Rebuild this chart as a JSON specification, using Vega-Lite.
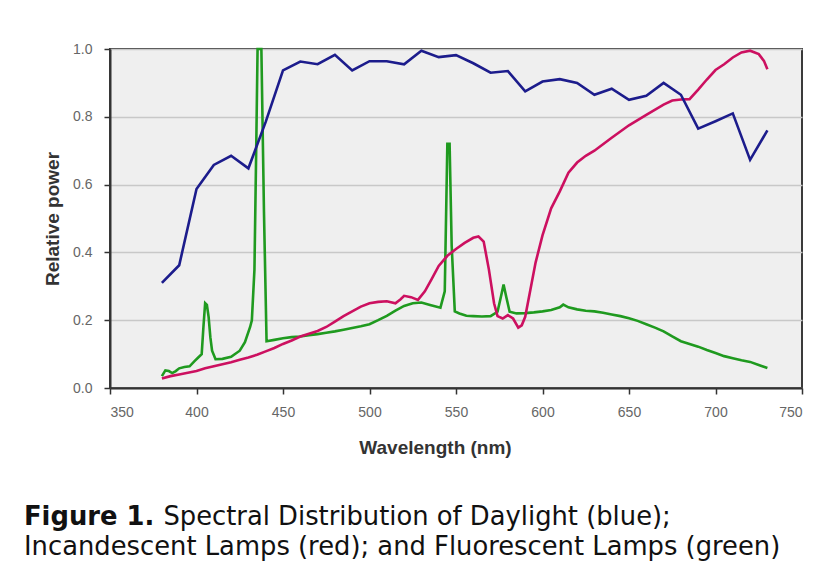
{
  "$schema": "https://vega.github.io/schema/vega-lite/v6.json",
  "autosize": {"type": "none"},
  "padding": {"left": 110, "top": 49, "right": 11, "bottom": 189},
  "width": 692,
  "height": 339,
  "background": "white",
  "title": {
    "text": "Figure 1.",
    "subtitle": ["\u200b\u00a0\u00a0\u00a0\u00a0\u00a0\u00a0\u00a0\u00a0\u00a0\u00a0\u00a0\u00a0\u00a0\u00a0\u00a0\u00a0\u00a0Spectral Distribution of Daylight (blue);", "Incandescent Lamps (red); and Fluorescent Lamps (green)"],
    "orient": "bottom",
    "anchor": "start",
    "frame": "group",
    "dx": -86,
    "offset": 48,
    "font": "DejaVu Sans",
    "fontSize": 25.8,
    "fontWeight": "bold",
    "color": "#111111",
    "subtitleFont": "DejaVu Sans",
    "subtitleFontSize": 25.8,
    "subtitleFontWeight": "normal",
    "subtitleColor": "#111111",
    "subtitlePadding": -25.8,
    "subtitleLineHeight": 30
  },
  "datasets": {
    "daylight": [
      {"wavelength": 380, "power": 0.31}, {"wavelength": 390, "power": 0.362}, {"wavelength": 400, "power": 0.587},
      {"wavelength": 410, "power": 0.658}, {"wavelength": 420, "power": 0.685}, {"wavelength": 430, "power": 0.648},
      {"wavelength": 440, "power": 0.785}, {"wavelength": 450, "power": 0.937}, {"wavelength": 460, "power": 0.963},
      {"wavelength": 470, "power": 0.955}, {"wavelength": 480, "power": 0.983}, {"wavelength": 490, "power": 0.937},
      {"wavelength": 500, "power": 0.964}, {"wavelength": 510, "power": 0.964}, {"wavelength": 520, "power": 0.955},
      {"wavelength": 530, "power": 0.995}, {"wavelength": 540, "power": 0.976}, {"wavelength": 550, "power": 0.982},
      {"wavelength": 560, "power": 0.958}, {"wavelength": 570, "power": 0.93}, {"wavelength": 580, "power": 0.935},
      {"wavelength": 590, "power": 0.875}, {"wavelength": 600, "power": 0.904}, {"wavelength": 610, "power": 0.911},
      {"wavelength": 620, "power": 0.9}, {"wavelength": 630, "power": 0.865}, {"wavelength": 640, "power": 0.883},
      {"wavelength": 650, "power": 0.85}, {"wavelength": 660, "power": 0.862}, {"wavelength": 670, "power": 0.9},
      {"wavelength": 680, "power": 0.865}, {"wavelength": 690, "power": 0.765}, {"wavelength": 700, "power": 0.787},
      {"wavelength": 710, "power": 0.81}, {"wavelength": 720, "power": 0.673}, {"wavelength": 730, "power": 0.76}
    ],
    "incandescent": [
      {"wavelength": 380, "power": 0.028}, {"wavelength": 385, "power": 0.035}, {"wavelength": 390, "power": 0.04},
      {"wavelength": 395, "power": 0.045}, {"wavelength": 400, "power": 0.05}, {"wavelength": 405, "power": 0.058},
      {"wavelength": 410, "power": 0.064}, {"wavelength": 415, "power": 0.07}, {"wavelength": 420, "power": 0.076},
      {"wavelength": 425, "power": 0.083}, {"wavelength": 430, "power": 0.09}, {"wavelength": 435, "power": 0.098},
      {"wavelength": 440, "power": 0.108}, {"wavelength": 445, "power": 0.118}, {"wavelength": 450, "power": 0.13},
      {"wavelength": 455, "power": 0.14}, {"wavelength": 460, "power": 0.152}, {"wavelength": 465, "power": 0.16},
      {"wavelength": 470, "power": 0.168}, {"wavelength": 475, "power": 0.18}, {"wavelength": 480, "power": 0.196},
      {"wavelength": 485, "power": 0.212}, {"wavelength": 490, "power": 0.226}, {"wavelength": 495, "power": 0.24},
      {"wavelength": 500, "power": 0.25}, {"wavelength": 505, "power": 0.254}, {"wavelength": 510, "power": 0.256},
      {"wavelength": 515, "power": 0.25}, {"wavelength": 518, "power": 0.262}, {"wavelength": 520, "power": 0.272},
      {"wavelength": 524, "power": 0.268}, {"wavelength": 528, "power": 0.26}, {"wavelength": 532, "power": 0.285},
      {"wavelength": 536, "power": 0.322}, {"wavelength": 540, "power": 0.36}, {"wavelength": 545, "power": 0.39},
      {"wavelength": 550, "power": 0.41}, {"wavelength": 555, "power": 0.428}, {"wavelength": 560, "power": 0.443},
      {"wavelength": 563, "power": 0.447}, {"wavelength": 566, "power": 0.432}, {"wavelength": 569, "power": 0.35},
      {"wavelength": 572, "power": 0.25}, {"wavelength": 574, "power": 0.212}, {"wavelength": 577, "power": 0.205},
      {"wavelength": 580, "power": 0.215}, {"wavelength": 583, "power": 0.205}, {"wavelength": 586, "power": 0.178},
      {"wavelength": 588, "power": 0.185}, {"wavelength": 590, "power": 0.21}, {"wavelength": 593, "power": 0.29},
      {"wavelength": 596, "power": 0.37}, {"wavelength": 600, "power": 0.45}, {"wavelength": 605, "power": 0.53},
      {"wavelength": 610, "power": 0.58}, {"wavelength": 615, "power": 0.635}, {"wavelength": 620, "power": 0.665},
      {"wavelength": 625, "power": 0.685}, {"wavelength": 630, "power": 0.7}, {"wavelength": 640, "power": 0.738},
      {"wavelength": 650, "power": 0.775}, {"wavelength": 660, "power": 0.806}, {"wavelength": 670, "power": 0.836},
      {"wavelength": 675, "power": 0.848}, {"wavelength": 680, "power": 0.851}, {"wavelength": 685, "power": 0.852},
      {"wavelength": 690, "power": 0.88}, {"wavelength": 695, "power": 0.91}, {"wavelength": 700, "power": 0.938},
      {"wavelength": 705, "power": 0.955}, {"wavelength": 710, "power": 0.975}, {"wavelength": 715, "power": 0.99},
      {"wavelength": 720, "power": 0.995}, {"wavelength": 725, "power": 0.985}, {"wavelength": 728, "power": 0.965},
      {"wavelength": 730, "power": 0.94}
    ],
    "fluorescent": [
      {"wavelength": 380, "power": 0.035}, {"wavelength": 382, "power": 0.052}, {"wavelength": 384, "power": 0.05},
      {"wavelength": 386, "power": 0.044}, {"wavelength": 388, "power": 0.05}, {"wavelength": 390, "power": 0.058},
      {"wavelength": 393, "power": 0.062}, {"wavelength": 396, "power": 0.064}, {"wavelength": 399, "power": 0.08},
      {"wavelength": 401, "power": 0.09}, {"wavelength": 403, "power": 0.1}, {"wavelength": 404, "power": 0.18},
      {"wavelength": 405, "power": 0.25}, {"wavelength": 406, "power": 0.245}, {"wavelength": 407, "power": 0.21},
      {"wavelength": 408, "power": 0.15}, {"wavelength": 409, "power": 0.11}, {"wavelength": 411, "power": 0.085},
      {"wavelength": 415, "power": 0.086}, {"wavelength": 420, "power": 0.092}, {"wavelength": 425, "power": 0.11},
      {"wavelength": 428, "power": 0.135}, {"wavelength": 431, "power": 0.18}, {"wavelength": 432, "power": 0.2},
      {"wavelength": 433.5, "power": 0.35}, {"wavelength": 434.5, "power": 0.7}, {"wavelength": 435.3, "power": 1.0},
      {"wavelength": 437.5, "power": 1.0}, {"wavelength": 439, "power": 0.52}, {"wavelength": 440.5, "power": 0.138},
      {"wavelength": 445, "power": 0.142}, {"wavelength": 450, "power": 0.147}, {"wavelength": 455, "power": 0.15},
      {"wavelength": 460, "power": 0.152}, {"wavelength": 465, "power": 0.156}, {"wavelength": 470, "power": 0.159},
      {"wavelength": 475, "power": 0.163}, {"wavelength": 480, "power": 0.167}, {"wavelength": 485, "power": 0.172},
      {"wavelength": 490, "power": 0.177}, {"wavelength": 495, "power": 0.182}, {"wavelength": 500, "power": 0.188},
      {"wavelength": 505, "power": 0.2}, {"wavelength": 510, "power": 0.213}, {"wavelength": 515, "power": 0.228},
      {"wavelength": 520, "power": 0.242}, {"wavelength": 525, "power": 0.25}, {"wavelength": 530, "power": 0.252},
      {"wavelength": 535, "power": 0.245}, {"wavelength": 541, "power": 0.237}, {"wavelength": 543.5, "power": 0.285},
      {"wavelength": 545, "power": 0.72}, {"wavelength": 546.3, "power": 0.72}, {"wavelength": 547.5, "power": 0.42},
      {"wavelength": 549.3, "power": 0.226}, {"wavelength": 552, "power": 0.22}, {"wavelength": 556, "power": 0.213},
      {"wavelength": 560, "power": 0.212}, {"wavelength": 565, "power": 0.211}, {"wavelength": 570, "power": 0.212},
      {"wavelength": 574, "power": 0.225}, {"wavelength": 576, "power": 0.27}, {"wavelength": 577.5, "power": 0.305},
      {"wavelength": 579, "power": 0.27}, {"wavelength": 581, "power": 0.225}, {"wavelength": 585, "power": 0.22},
      {"wavelength": 590, "power": 0.221}, {"wavelength": 595, "power": 0.223}, {"wavelength": 600, "power": 0.226},
      {"wavelength": 605, "power": 0.23}, {"wavelength": 610, "power": 0.238}, {"wavelength": 612, "power": 0.246},
      {"wavelength": 615, "power": 0.238}, {"wavelength": 620, "power": 0.232}, {"wavelength": 625, "power": 0.228},
      {"wavelength": 630, "power": 0.226}, {"wavelength": 635, "power": 0.222}, {"wavelength": 640, "power": 0.217},
      {"wavelength": 645, "power": 0.212}, {"wavelength": 650, "power": 0.206}, {"wavelength": 655, "power": 0.198},
      {"wavelength": 660, "power": 0.188}, {"wavelength": 665, "power": 0.178}, {"wavelength": 670, "power": 0.167},
      {"wavelength": 675, "power": 0.152}, {"wavelength": 680, "power": 0.138}, {"wavelength": 685, "power": 0.13},
      {"wavelength": 690, "power": 0.122}, {"wavelength": 695, "power": 0.112}, {"wavelength": 700, "power": 0.103},
      {"wavelength": 705, "power": 0.094}, {"wavelength": 710, "power": 0.088}, {"wavelength": 715, "power": 0.082},
      {"wavelength": 720, "power": 0.077}, {"wavelength": 725, "power": 0.068}, {"wavelength": 730, "power": 0.059}
    ]
  },
  "encoding": {
    "x": {
      "field": "wavelength", "type": "quantitative",
      "scale": {"domain": [350, 750], "nice": false, "zero": false},
      "axis": {"title": "Wavelength (nm)", "values": [350, 400, 450, 500, 550, 600, 650, 700, 750], "grid": false, "titleX": 325, "titlePadding": 19, "labelPadding": 11}
    },
    "y": {
      "field": "power", "type": "quantitative",
      "scale": {"domain": [0, 1], "nice": false},
      "axis": {"title": "Relative power", "values": [0, 0.2, 0.4, 0.6, 0.8, 1.0], "format": ".1f", "grid": true, "titlePadding": 10, "labelPadding": 12}
    }
  },
  "layer": [
    {"data": {"name": "fluorescent"}, "mark": {"type": "line", "color": "#1f9a1f", "strokeWidth": 2.6}},
    {"data": {"name": "incandescent"}, "mark": {"type": "line", "color": "#cc1060", "strokeWidth": 2.6}},
    {"data": {"name": "daylight"}, "mark": {"type": "line", "color": "#1c1c8c", "strokeWidth": 2.6}}
  ],
  "config": {
    "view": {"fill": "#efefef", "stroke": "#3a3a3a", "strokeWidth": 2},
    "axis": {
      "domainColor": "#333333", "domainWidth": 2,
      "tickColor": "#333333", "tickWidth": 1.5, "tickSize": 6,
      "labelColor": "#666666", "labelFont": "Liberation Sans", "labelFontSize": 14,
      "titleColor": "#333333", "titleFont": "Liberation Sans", "titleFontSize": 19, "titleFontWeight": "bold",
      "gridColor": "#c8c8c8", "gridWidth": 1.5
    }
  }
}
